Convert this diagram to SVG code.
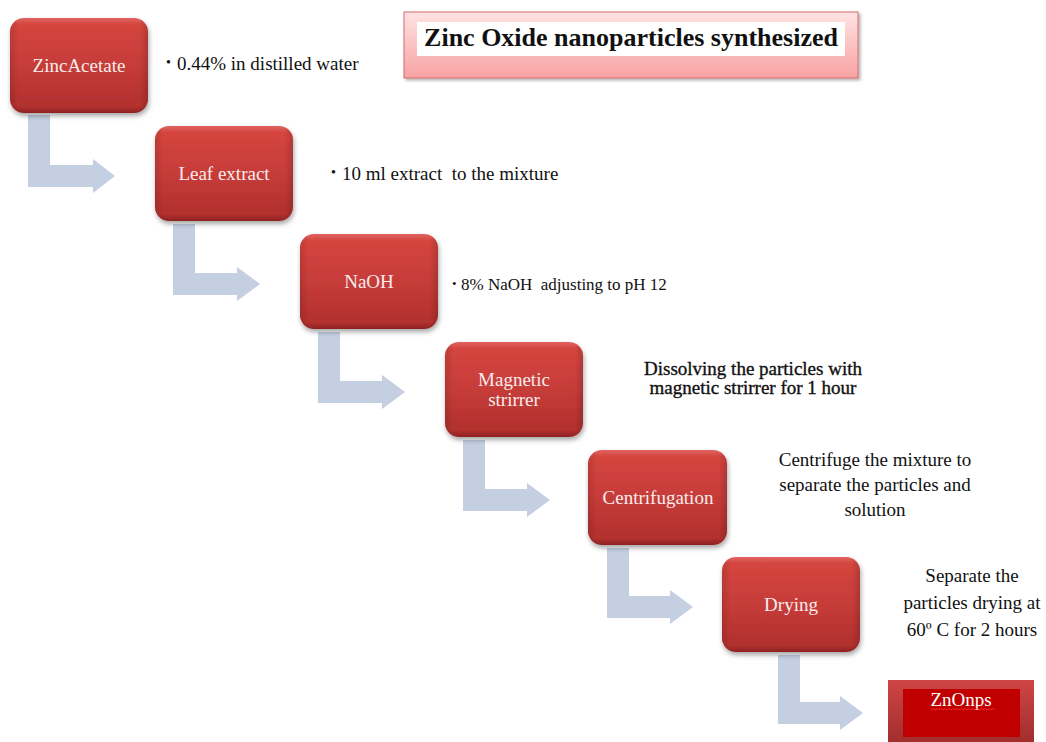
<svg xmlns="http://www.w3.org/2000/svg" width="1046" height="742" viewBox="0 0 1046 742">
<defs>
<linearGradient id="boxg" x1="0" y1="0" x2="0" y2="1">
<stop offset="0" stop-color="#e06461"/>
<stop offset="0.07" stop-color="#d4453f"/>
<stop offset="0.5" stop-color="#c63c39"/>
<stop offset="0.93" stop-color="#b2302e"/>
<stop offset="1" stop-color="#8e2323"/>
</linearGradient>
<linearGradient id="boxside" x1="0" y1="0" x2="1" y2="0">
<stop offset="0" stop-color="#000" stop-opacity="0.12"/>
<stop offset="0.06" stop-color="#000" stop-opacity="0"/>
<stop offset="0.94" stop-color="#000" stop-opacity="0"/>
<stop offset="1" stop-color="#000" stop-opacity="0.15"/>
</linearGradient>
<linearGradient id="titleg" x1="0" y1="0" x2="0" y2="1">
<stop offset="0" stop-color="#ffe3e3"/>
<stop offset="1" stop-color="#f8a2a2"/>
</linearGradient>
<linearGradient id="zng" x1="0" y1="0" x2="0" y2="1">
<stop offset="0" stop-color="#cf4545"/>
<stop offset="1" stop-color="#9c2b2b"/>
</linearGradient>
<filter id="sh" x="-10%" y="-10%" width="125%" height="130%">
<feDropShadow dx="1" dy="3" stdDeviation="2.5" flood-color="#000" flood-opacity="0.35"/>
</filter>
<filter id="sh2" x="-5%" y="-10%" width="110%" height="130%">
<feDropShadow dx="2" dy="2" stdDeviation="1.5" flood-color="#000" flood-opacity="0.3"/>
</filter>
</defs>
<style>
.box{fill:url(#boxg);filter:url(#sh);}
.boxs{fill:url(#boxside);}
.arr{fill:#c4cfe2;}
</style>
<rect width="1046" height="742" fill="#ffffff"/>

<g id="connectors">
<path class="arr" d="M28 115 H50 V165 H93 V159 L115 176 L93 193 V187 H28 Z"/>
<path class="arr" d="M173 224 H195 V273 H237 V267 L260 284 L237 301 V295 H173 Z"/>
<path class="arr" d="M318 332 H340 V381 H382 V375 L405 392 L382 409 V403 H318 Z"/>
<path class="arr" d="M463 440 H485 V489 H527 V483 L550 500 L527 517 V511 H463 Z"/>
<path class="arr" d="M607 548 H629 V596 H670 V590 L693 607 L670 624 V618 H607 Z"/>
<path class="arr" d="M778 655 H800 V702 H840 V696 L863 713 L840 730 V724 H778 Z"/>
</g>

<g id="title">
<rect x="404" y="12" width="454" height="66" fill="url(#titleg)" stroke="#d46a6a" stroke-width="1" filter="url(#sh2)"/>
<rect x="417" y="22" width="428" height="34" fill="#ffffff"/>
<text x="631" y="46" font-family="Liberation Serif, 'Times New Roman', serif" font-size="26" font-weight="bold" fill="#111" text-anchor="middle">Zinc Oxide nanoparticles synthesized</text>
</g>

<g id="node-zincacetate">
<rect class="box" x="10" y="18" width="138" height="95" rx="14"/>
<rect class="boxs" x="10" y="18" width="138" height="95" rx="14"/>
<text x="79" y="72" font-family="Liberation Serif, 'Times New Roman', serif" font-size="19" fill="#f8ecec" text-anchor="middle">ZincAcetate</text>
</g>
<g id="note-zincacetate" font-family="Liberation Serif, 'Times New Roman', serif" fill="#111">
<text x="166" y="67" font-family="Liberation Serif, 'Times New Roman', serif" font-size="14">•</text>
<text x="177" y="70" font-family="Liberation Serif, 'Times New Roman', serif" font-size="19">0.44% in distilled water</text>
</g>

<g id="node-leaf">
<rect class="box" x="155" y="126" width="138" height="95" rx="14"/>
<rect class="boxs" x="155" y="126" width="138" height="95" rx="14"/>
<text x="224" y="180" font-family="Liberation Serif, 'Times New Roman', serif" font-size="19" fill="#f8ecec" text-anchor="middle">Leaf extract</text>
</g>
<g id="note-leaf" fill="#111">
<text x="331" y="177" font-family="Liberation Serif, 'Times New Roman', serif" font-size="14">•</text>
<text x="342" y="180" font-family="Liberation Serif, 'Times New Roman', serif" font-size="19" xml:space="preserve">10 ml extract  to the mixture</text>
</g>

<g id="node-naoh">
<rect class="box" x="300" y="234" width="138" height="95" rx="14"/>
<rect class="boxs" x="300" y="234" width="138" height="95" rx="14"/>
<text x="369" y="288" font-family="Liberation Serif, 'Times New Roman', serif" font-size="19" fill="#f8ecec" text-anchor="middle">NaOH</text>
</g>
<g id="note-naoh" fill="#111">
<text x="452" y="288" font-family="Liberation Serif, 'Times New Roman', serif" font-size="13">•</text>
<text x="461" y="290" font-family="Liberation Serif, 'Times New Roman', serif" font-size="17" xml:space="preserve">8% NaOH  adjusting to pH 12</text>
</g>

<g id="node-magnetic">
<rect class="box" x="445" y="342" width="138" height="95" rx="14"/>
<rect class="boxs" x="445" y="342" width="138" height="95" rx="14"/>
<text x="514" y="386" font-family="Liberation Serif, 'Times New Roman', serif" font-size="19" fill="#f8ecec" text-anchor="middle">Magnetic</text>
<text x="514" y="406" font-family="Liberation Serif, 'Times New Roman', serif" font-size="19" fill="#f8ecec" text-anchor="middle">strirrer</text>
</g>
<g id="note-magnetic" fill="#111">
<text x="753" y="375" font-family="Liberation Serif, 'Times New Roman', serif" font-size="19" text-anchor="middle" stroke="#111" stroke-width="0.35">Dissolving the particles with</text>
<text x="753" y="394" font-family="Liberation Serif, 'Times New Roman', serif" font-size="19" text-anchor="middle" stroke="#111" stroke-width="0.35">magnetic strirrer for 1 hour</text>
</g>

<g id="node-centrifugation">
<rect class="box" x="588" y="450" width="139" height="95" rx="14"/>
<rect class="boxs" x="588" y="450" width="139" height="95" rx="14"/>
<text x="658" y="504" font-family="Liberation Serif, 'Times New Roman', serif" font-size="19" fill="#f8ecec" text-anchor="middle">Centrifugation</text>
</g>
<g id="note-centrifugation" fill="#111">
<text x="875" y="466" font-family="Liberation Serif, 'Times New Roman', serif" font-size="19" text-anchor="middle">Centrifuge the mixture to</text>
<text x="875" y="491" font-family="Liberation Serif, 'Times New Roman', serif" font-size="19" text-anchor="middle">separate the particles and</text>
<text x="875" y="516" font-family="Liberation Serif, 'Times New Roman', serif" font-size="19" text-anchor="middle">solution</text>
</g>

<g id="node-drying">
<rect class="box" x="722" y="557" width="138" height="95" rx="14"/>
<rect class="boxs" x="722" y="557" width="138" height="95" rx="14"/>
<text x="791" y="611" font-family="Liberation Serif, 'Times New Roman', serif" font-size="19" fill="#f8ecec" text-anchor="middle">Drying</text>
</g>
<g id="note-drying" fill="#111">
<text x="972" y="582" font-family="Liberation Serif, 'Times New Roman', serif" font-size="19" text-anchor="middle">Separate the</text>
<text x="972" y="609" font-family="Liberation Serif, 'Times New Roman', serif" font-size="19" text-anchor="middle">particles drying at</text>
<text x="972" y="636" font-family="Liberation Serif, 'Times New Roman', serif" font-size="19" text-anchor="middle">60º C for 2 hours</text>
</g>

<g id="node-znonps">
<rect x="888" y="680" width="146" height="70" fill="url(#zng)"/>
<rect x="903" y="689" width="117" height="48" fill="#c00000"/>
<text x="961" y="706" font-family="Liberation Serif, 'Times New Roman', serif" font-size="19" fill="#ffffff" text-anchor="middle">ZnOnps</text>
<path d="M931 710 l2 -1.5 l2 1.5 l2 -1.5 l2 1.5 l2 -1.5 l2 1.5 l2 -1.5 l2 1.5 l2 -1.5 l2 1.5 l2 -1.5 l2 1.5 l2 -1.5 l2 1.5 l2 -1.5 l2 1.5 l2 -1.5 l2 1.5 l2 -1.5 l2 1.5 l2 -1.5 l2 1.5 l2 -1.5 l2 1.5 l2 -1.5 l2 1.5 l2 -1.5 l2 1.5 l2 -1.5 l2 1.5 l2 -1.5 l2 1.5" fill="none" stroke="#ff3030" stroke-width="0.8"/>
</g>
</svg>
